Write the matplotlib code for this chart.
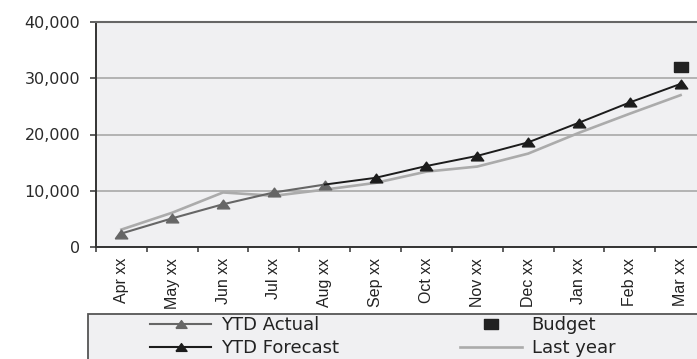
import matplotlib
matplotlib.use("Agg")
import matplotlib.pyplot as plt
from matplotlib.lines import Line2D
from matplotlib.patches import Rectangle
from matplotlib.ticker import FuncFormatter, FixedLocator

months = ["Apr xx", "May xx", "Jun xx", "Jul xx", "Aug xx", "Sep xx",
          "Oct xx", "Nov xx", "Dec xx", "Jan xx", "Feb xx", "Mar xx"]
ytd_actual = [2400, 5100, 7600, 9700, 11100]                      # Apr - Aug
ytd_forecast = [11100, 12300, 14400, 16200, 18600, 22100, 25700, 29000]  # Aug - Mar
budget = 32000                                                     # Mar
last_year = [3100, 6100, 9700, 9100, 10200, 11400, 13400, 14300,
             16600, 20300, 23700, 27000]

W, H = 697, 359
fig = plt.figure(figsize=(W / 100, H / 100), dpi=100)
fig.patch.set_facecolor("white")

# axes box: left spine at x=96px, top at y=22px, baseline at y=247px; right edge runs past the figure
ax = fig.add_axes([96 / W, 1 - 247 / H, 610 / W, 225 / H])
ax.set_facecolor("#f0f0f2")

tri = [(-1, -0.7), (1, -0.7), (0, 0.7), (-1, -0.7)]
sq = [(-1, -0.65), (1, -0.65), (1, 0.65), (-1, 0.65), (-1, -0.65)]

x_all = list(range(len(months)))
x_act = x_all[:len(ytd_actual)]
x_fc = x_all[len(ytd_actual) - 1:]

ax.plot(x_all, last_year, color="#ababab", lw=1.9, zorder=3)
ax.plot(x_act, ytd_actual, color="#666666", lw=1.5, marker=tri, ms=9,
        mfc="#666666", mec="#666666", zorder=4)
ax.plot(x_fc, ytd_forecast, color="#1c1c1c", lw=1.4, marker=tri, ms=9,
        mfc="#1c1c1c", mec="#1c1c1c", markevery=list(range(1, len(x_fc))), zorder=5)
ax.plot([x_all[-1]], [budget], linestyle="none", marker=sq, ms=10,
        mfc="#222222", mec="#222222", zorder=5)

ax.set_xlim(-0.5, len(months) - 0.5)
ax.set_ylim(0, 40000)
ax.set_yticks([0, 10000, 20000, 30000, 40000])
ax.yaxis.set_major_formatter(FuncFormatter(lambda v, p: f"{int(v):,}"))
ax.tick_params(axis="y", direction="out", length=4.3, width=1.1, color="#333333",
               pad=7, labelsize=11.5, labelcolor="#2a2a2a")
for lab in ax.get_yticklabels():
    lab.set_family("DejaVu Sans")

ax.set_xticks(x_all)
ax.set_xticklabels(months, rotation=90, family="Liberation Sans", fontsize=11.5,
                   color="#222222")
ax.xaxis.set_minor_locator(FixedLocator([i - 0.5 for i in range(len(months) + 1)]))
ax.tick_params(axis="x", which="major", length=0, pad=8)
ax.tick_params(axis="x", which="minor", direction="out", length=3.6, width=1.1,
               color="#333333")

ax.grid(axis="y", color="#b3b3b3", lw=1.4, zorder=1)
ax.set_axisbelow(True)
for side in ("left", "bottom"):
    ax.spines[side].set_color("#333333")
    ax.spines[side].set_linewidth(1.4)
ax.spines["top"].set_color("#666666")
ax.spines["top"].set_linewidth(1.5)
ax.spines["right"].set_visible(False)

# legend panel along the bottom edge
panel = Rectangle((88 / W, -0.1), 1.0, (1 - 314 / H) + 0.1, transform=fig.transFigure,
                  facecolor="#f0f0f2", edgecolor="#555555", lw=1.3, zorder=0)
fig.patches.append(panel)

handles = [
    Line2D([], [], color="#666666", lw=1.5, marker=tri, ms=8, mfc="#666666", mec="#666666"),
    Line2D([], [], color="#1c1c1c", lw=1.5, marker=tri, ms=8, mfc="#1c1c1c", mec="#1c1c1c"),
    Line2D([], [], linestyle="none", marker=sq, ms=10, mfc="#222222", mec="#222222"),
    Line2D([], [], color="#ababab", lw=1.9),
]
labels = ["YTD Actual", "YTD Forecast", "Budget", "Last year"]
leg = fig.legend(handles, labels, loc="upper left",
                 bbox_to_anchor=(150 / W, 1 - 316 / H), ncol=2, frameon=False,
                 borderpad=0, borderaxespad=0, handlelength=3.4, handletextpad=0.55,
                 columnspacing=6.7, labelspacing=0.3,
                 prop={"family": "DejaVu Sans", "size": 13})
for t in leg.get_texts():
    t.set_color("#222222")

fig.savefig("out.png", dpi=100)
